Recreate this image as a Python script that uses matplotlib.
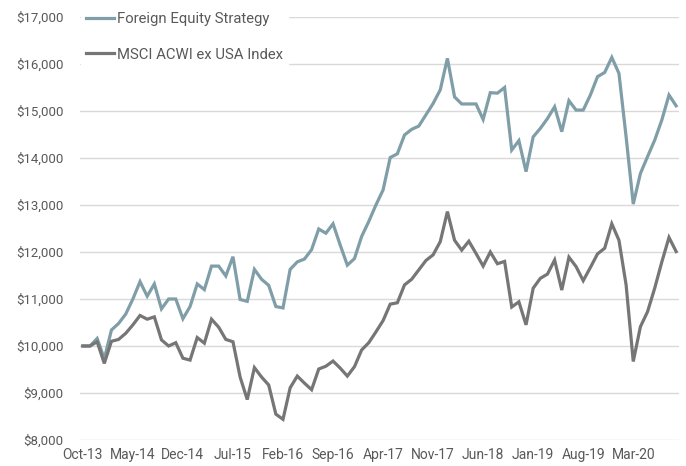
import numpy as np
import matplotlib
matplotlib.use('Agg')
import matplotlib.pyplot as plt
from matplotlib.ticker import FuncFormatter

# growth of $10,000, monthly, Oct-13 .. Sep-20
foreign = [10000, 10000, 10160, 9730, 10340, 10480, 10680, 11000, 11370, 11060,
           11320, 10790, 11000, 11000, 10580, 10840, 11320, 11200, 11700, 11700,
           11490, 11900, 10990, 10950, 11630, 11420, 11290, 10840, 10810, 11630,
           11790, 11850, 12050, 12490, 12400, 12600, 12150, 11720, 11860, 12330,
           12650, 13000, 13320, 14010, 14090, 14490, 14610, 14680, 14920, 15160,
           15450, 16120, 15300, 15150, 15150, 15150, 14820, 15390, 15380, 15500,
           14170, 14370, 13710, 14450, 14630, 14840, 15090, 14560, 15220, 15020,
           15020, 15340, 15730, 15820, 16140, 15800, 14450, 13020, 13670, 14030,
           14380, 14810, 15340, 15110]

msci = [10000, 10000, 10090, 9630, 10100, 10140, 10270, 10450, 10650, 10570,
        10620, 10130, 10000, 10070, 9740, 9700, 10180, 10060, 10570, 10400,
        10140, 10090, 9340, 8860, 9540, 9340, 9170, 8550, 8440, 9110,
        9360, 9210, 9070, 9510, 9570, 9680, 9530, 9360, 9560, 9915,
        10070, 10300, 10540, 10890, 10920, 11300, 11420, 11620, 11820, 11940,
        12220, 12860, 12250, 12040, 12230, 11970, 11700, 12000, 11750, 11800,
        10830, 10940, 10450, 11230, 11440, 11530, 11830, 11190, 11890, 11690,
        11390, 11670, 11960, 12080, 12600, 12250, 11300, 9670, 10410, 10730,
        11230, 11790, 12310, 12010]

tick_pos = [0, 7, 14, 21, 28, 35, 42, 49, 56, 63, 70, 77]
tick_labels = ['Oct-13', 'May-14', 'Dec-14', 'Jul-15', 'Feb-16', 'Sep-16',
               'Apr-17', 'Nov-17', 'Jun-18', 'Jan-19', 'Aug-19', 'Mar-20']

blue = '#7f9ea7'
grey = '#767676'
txt = '#595959'

plt.rcParams['font.family'] = ['Roboto', 'DejaVu Sans']

fig = plt.figure(figsize=(6.86, 4.66), dpi=100)
ax = fig.add_axes([0.1166, 0.0558, 0.8732, 0.9077])

x = np.arange(len(foreign))
ax.plot(x, foreign, color=blue, lw=2.3, label='Foreign Equity Strategy', solid_joinstyle='miter')
ax.plot(x, msci, color=grey, lw=2.3, label='MSCI ACWI ex USA Index', solid_joinstyle='miter')

ax.set_ylim(8000, 17000)
ax.set_yticks(np.arange(8000, 17001, 1000))
ax.yaxis.set_major_formatter(FuncFormatter(lambda v, p: '${:,.0f}'.format(v)))
ax.set_xlim(-0.4, 83.4)
ax.set_xticks(tick_pos)
ax.set_xticklabels(tick_labels)

ax.grid(axis='y', color='#d9d9d9', lw=1)
ax.set_axisbelow(True)
for s in ax.spines.values():
    s.set_visible(False)
ax.tick_params(length=0, colors=txt)
ax.tick_params(axis='y', pad=12, labelsize=9.5)
ax.tick_params(axis='x', pad=6, labelsize=10)

leg = ax.legend(loc='upper left', bbox_to_anchor=(-0.01, 1.04), frameon=True,
                fancybox=False, edgecolor='white', framealpha=1,
                handlelength=1.9, handletextpad=0.2, labelspacing=1.45,
                fontsize=10.7, borderpad=0.3)
for t in leg.get_texts():
    t.set_color(txt)

fig.savefig('out.png', dpi=100)
